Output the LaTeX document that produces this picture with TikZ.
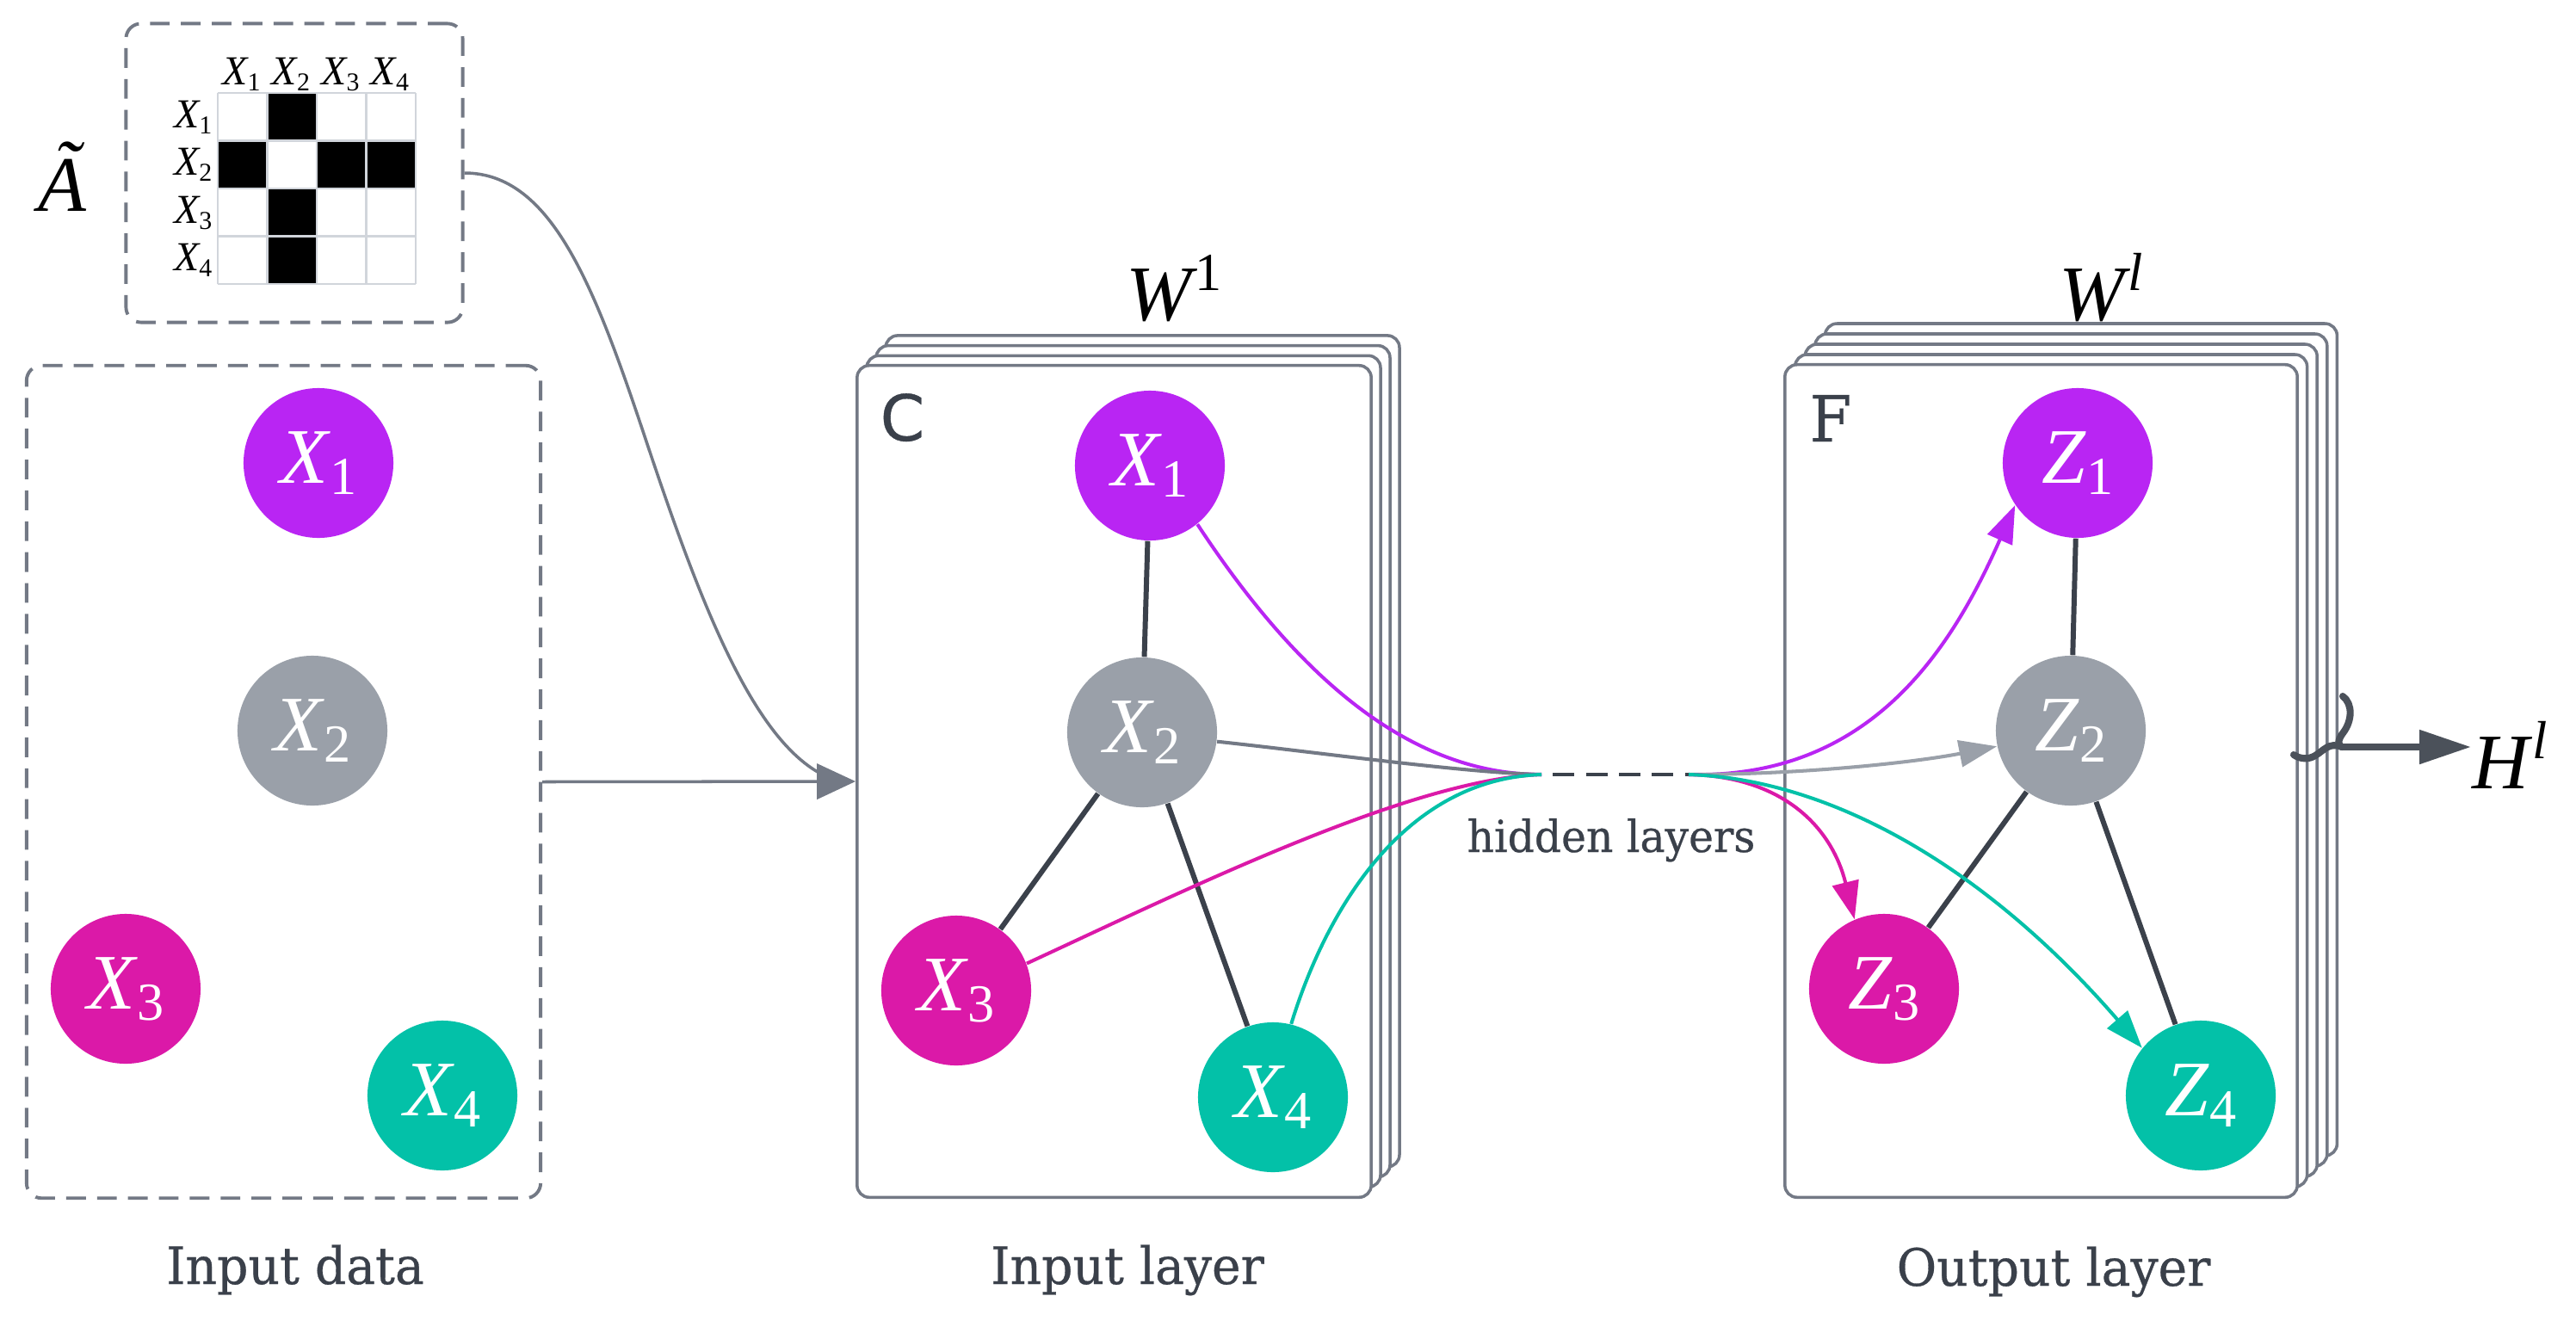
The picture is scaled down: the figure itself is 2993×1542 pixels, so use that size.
\documentclass[tikz,border=0pt]{standalone}
\usepackage{fontspec}
\setmainfont{Liberation Serif}
\newfontfamily\tms{Liberation Serif}
\newfontfamily\slab[FakeStretch=0.95,FakeBold=0.5]{DejaVu Serif}
\newfontfamily\sansC[FakeBold=0.5]{DejaVu Sans}
\usetikzlibrary{arrows.meta}
\definecolor{cpurple}{HTML}{B925F3}
\definecolor{cmag}{HTML}{DB19A8}
\definecolor{cteal}{HTML}{03C1A8}
\definecolor{cgray}{HTML}{9AA0A9}
\definecolor{cbox}{HTML}{737985}
\definecolor{cdark}{HTML}{3B414B}
\definecolor{ctext}{HTML}{3A404A}
\definecolor{cgrid}{HTML}{D1D5DB}
\definecolor{carrow}{HTML}{4B515A}
\newcommand\nlab[2]{{\itshape #1}\kern0.02em\raisebox{-0.14em}{\fontsize{17.7}{20}\selectfont #2}}
\newcommand\mlab[1]{{\itshape X}\raisebox{-0.15em}{\fontsize{8.5}{10}\selectfont #1}}
\newcommand\suplab[2]{{\itshape #1}\kern0.05em\raisebox{0.38em}{\fontsize{17.7}{20}\selectfont #2}}
\newcommand\atilde{{\itshape\makebox[0pt][l]{\kern0.2em\raisebox{0.2em}{\char"02DC}}A}}
\tikzset{
 nd/.style={circle, minimum size=1.74cm, inner sep=0pt, text=white, font=\tms\fontsize{26}{30}\selectfont},
 dashbox/.style={draw=cbox, line width=1.1pt, dash pattern=on 6.5pt off 3.7pt, rounded corners=5pt, inner sep=0pt},
 cardbox/.style={draw=cbox, fill=white, line width=1pt, rounded corners=4pt},
 cardnode/.style={cardbox, inner sep=0pt, minimum width=5.97cm, minimum height=9.66cm},
 edge/.style={draw=cdark, line width=1.7pt},
 flow/.style={line width=1.15pt},
 headtri/.style={-{Triangle[length=12.5pt,width=8.8pt]}},
 lbl/.style={text=ctext, font=\slab\fontsize{17}{20}\selectfont, inner sep=0pt},
 mlabel/.style={inner sep=0pt, font=\tms\fontsize{13.6}{15}\selectfont},
 biglab/.style={inner sep=0pt, font=\tms\fontsize{26}{30}\selectfont},
 gridline/.style={draw=cgrid, line width=0.7pt},
 harrow/.style={draw=carrow, line width=2.3pt},
}
\begin{document}
\begin{tikzpicture}[x=0.01cm,y=-0.01cm]
\useasboundingbox (0,0) rectangle (2993,1542);
\fill[white] (0,0) rectangle (2993,1542);

% adjacency matrix
\node[dashbox, minimum width=3.91cm, minimum height=3.47cm] (mbox) at (342,201) {};
\foreach \c/\r in {1/0,0/1,2/1,3/1,1/2,1/3}
  \fill[black] ({253+57.5*\c},{108+55.5*\r}) rectangle ++(57.5,55.5);
\foreach \i in {0,...,4} {
  \draw[gridline] ({253+57.5*\i},108) -- ({253+57.5*\i},330);
  \draw[gridline] (253,{108+55.5*\i}) -- (483,{108+55.5*\i});
}
\foreach \i in {1,...,4} {
  \node[mlabel, anchor=base] (mc\i) at ({253+57.5*\i-30},98) {\mlab{\i}};
  \node[mlabel, anchor=base east] (mr\i) at (247,{148+55.5*(\i-1)}) {\mlab{\i}};
}
\node[biglab, anchor=base] (At) at (72,245) {\atilde};

% input data
\node[dashbox, minimum width=5.97cm, minimum height=9.67cm] (dbox) at (329.5,908.5) {};
\node[nd, fill=cpurple] (dX1) at (370,538) {\nlab{X}{1}};
\node[nd, fill=cgray] (dX2) at (363,849) {\nlab{X}{2}};
\node[nd, fill=cmag] (dX3) at (146,1149) {\nlab{X}{3}};
\node[nd, fill=cteal] (dX4) at (514,1273) {\nlab{X}{4}};
\node[lbl, anchor=base] (tdata) at (343,1492) {Input data};

% input layer cards
\foreach \k in {3,2,1}
  \draw[cardbox] ({996+11*\k},{425-11.7*\k}) rectangle ({1593+11*\k},{1391-11.7*\k});
\node[cardnode] (icard) at (1294.5,908) {};
\node[inner sep=0pt, anchor=base west, text=ctext, font=\sansC\fontsize{21}{24}\selectfont] (cC) at (1022,512) {C};
\node[biglab, anchor=base] (W1) at (1364,372) {\suplab{W}{1}};
\node[lbl, anchor=base] (tinl) at (1310,1492) {Input layer};

% output layer cards
\foreach \k in {4,3,2,1}
  \draw[cardbox] ({2074+11.6*\k},{424-12*\k}) rectangle ({2669+11.6*\k},{1391-12*\k});
\node[cardnode, minimum width=5.95cm, minimum height=9.67cm] (ocard) at (2371.5,907.5) {};
\node[inner sep=0pt, anchor=base west, text=ctext, font=\slab\fontsize{21}{24}\selectfont] (cF) at (2102,513) {F};
\node[biglab, anchor=base] (Wl) at (2441,372) {\suplab{W}{\itshape l}};
\node[lbl, anchor=base] (toutl) at (2386,1494) {Output layer};

% arrows into input layer
\coordinate (cjoin) at (950,897);
\draw[draw=cbox, line width=1pt] (mbox.east) .. controls (640,201) and (690,330) .. (750,510)
   .. controls (810,690) and (870,850) .. (cjoin);
\draw[draw=cbox, line width=1pt, -{Triangle[length=12.8pt,width=11.7pt]}, color=cbox] (dbox.east) -- (icard.west);

% input layer nodes
\node[nd, fill=cpurple] (iX1) at (1336,541) {\nlab{X}{1}};
\node[nd, fill=cgray] (iX2) at (1327,851) {\nlab{X}{2}};
\node[nd, fill=cmag] (iX3) at (1111,1151) {\nlab{X}{3}};
\node[nd, fill=cteal] (iX4) at (1479,1275) {\nlab{X}{4}};
\draw[edge] (iX1) -- (iX2);
\draw[edge] (iX2) -- (iX3);
\draw[edge] (iX2) -- (iX4);

% output layer nodes
\node[nd, fill=cpurple] (oZ1) at (2414,538) {\nlab{Z}{1}};
\node[nd, fill=cgray] (oZ2) at (2406,849) {\nlab{Z}{2}};
\node[nd, fill=cmag] (oZ3) at (2189,1149) {\nlab{Z}{3}};
\node[nd, fill=cteal] (oZ4) at (2557,1273) {\nlab{Z}{4}};
\draw[edge] (oZ1) -- (oZ2);
\draw[edge] (oZ2) -- (oZ3);
\draw[edge] (oZ2) -- (oZ4);

% hidden layers
\coordinate (L) at (1791,900);
\coordinate (R) at (1962,900);
\draw[draw=cdark, line width=1.2pt, dash pattern=on 7.1pt off 3.8pt, dash phase=7.1pt] (L) -- (R);
\node[lbl, font=\slab\fontsize{14.6}{17}\selectfont, anchor=base] (thid) at (1872,990) {hidden layers};

\draw[flow, cpurple] (iX1.-51) .. controls (1510,790) and (1640,900) .. (L);
\draw[flow, cbox] (iX2.-7) .. controls (1530,874) and (1700,898) .. (L);
\draw[flow, cmag] (iX3.21) .. controls (1380,1033) and (1640,905) .. (L);
\draw[flow, cteal] (iX4.76) .. controls (1540,1060) and (1630,905) .. (L);

\draw[flow, cpurple, headtri] (R) .. controls (2170,905) and (2265,760) .. (oZ1.-146);
\draw[flow, cgray, headtri] (R) .. controls (2100,900) and (2230,885) .. (oZ2.-168);
\draw[flow, cmag, headtri] (R) .. controls (2070,902) and (2128,960) .. (oZ3.113);
\draw[flow, cteal, headtri] (R) .. controls (2120,905) and (2300,1000) .. (oZ4.141);

% output brace and arrow
\coordinate (brj) at (2721,868);
\coordinate (htip) at (2871,868);
\draw[harrow, line cap=round] (2722,809) .. controls (2734,818) and (2733,838) .. (2722,852)
   .. controls (2716,860) and (2716,866) .. (brj);
\draw[harrow, line cap=round] (brj) .. controls (2706,862) and (2700,872) .. (2690,878)
   .. controls (2682,883) and (2672,882) .. (2665,877);
\draw[harrow, -{Triangle[length=17pt,width=10.8pt]}] (brj) -- (htip);
\node[biglab, anchor=base] (Hl) at (2916,916) {\suplab{H}{\itshape l}};
\end{tikzpicture}
\end{document}
